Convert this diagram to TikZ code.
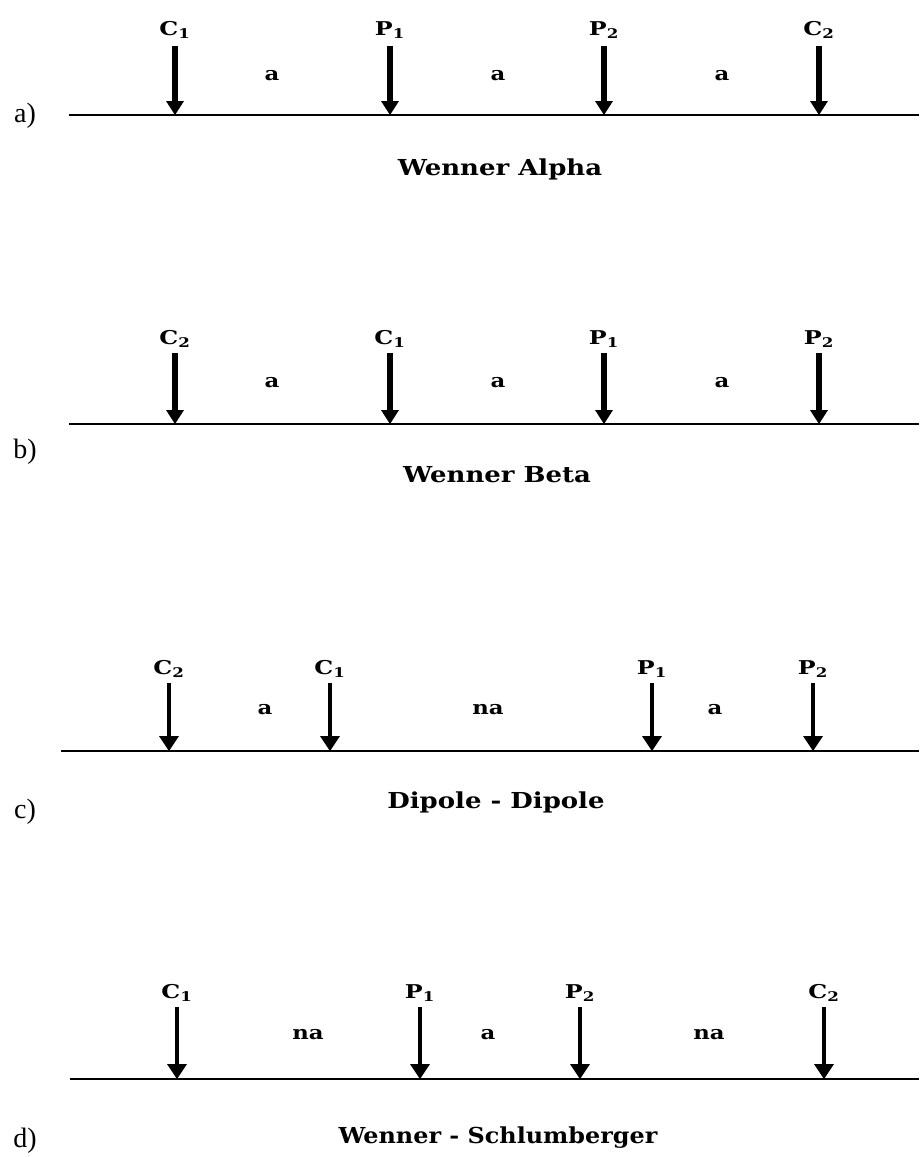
\documentclass[tikz,border=0pt]{standalone}
\usepackage{fontspec}
\setmainfont{Liberation Serif}
\newfontfamily\lblfont{DejaVu Serif}
\usetikzlibrary{arrows.meta}
\tikzset{
  ground/.style={line width=1.6pt},
  thickarr/.style={line width=6pt,-{Triangle[width=18pt,length=14pt,line width=0pt]}},
  thinarr/.style={line width=4.2pt,-{Triangle[width=20pt,length=15pt,line width=0pt]}},
  lab/.style={font=\lblfont\bfseries\fontsize{19}{21}\selectfont,inner sep=0pt,anchor=base,xscale=1.25},
  gap/.style={font=\lblfont\bfseries\fontsize{19}{21}\selectfont,inner sep=0pt,xscale=1.2},
  caption/.style={font=\lblfont\bfseries\fontsize{22}{24}\selectfont,inner sep=0pt,anchor=base,xscale=1.18},
  panel/.style={font=\fontsize{28}{30}\selectfont,inner sep=0pt},
}
\newcommand\elec[7]{% name, x, ground y, label baseline y, arrow top y, text, arrow style
  \coordinate (#1b) at (#2,#3);
  \coordinate (#1t) at (#2,#5);
  \node[lab] (#1) at (#2,#4) {#6};
  \draw[#7] (#1t) -- (#1b);
}
\begin{document}
\begin{tikzpicture}[x=1pt,y=-1pt]
\useasboundingbox[fill=white] (0,0) rectangle (919,1157);
% ---------- a) Wenner Alpha ----------
\coordinate (ga1) at (69,115); \coordinate (ga2) at (919,115);
\draw[ground] (ga1) -- (ga2);
\node[panel] (pa) at (25,116) {a)};
\elec{aC1}{175}{115}{35}{46}{C\textsubscript{1}}{thickarr}
\elec{aP1}{390}{115}{35}{46}{P\textsubscript{1}}{thickarr}
\elec{aP2}{604}{115}{35}{46}{P\textsubscript{2}}{thickarr}
\elec{aC2}{819}{115}{35}{46}{C\textsubscript{2}}{thickarr}
\node[gap] (aa1) at (272,76) {a};
\node[gap] (aa2) at (498,76) {a};
\node[gap] (aa3) at (722,76) {a};
\node[caption] (capa) at (500,175) {Wenner Alpha};
% ---------- b) Wenner Beta ----------
\coordinate (gb1) at (69,424); \coordinate (gb2) at (919,424);
\draw[ground] (gb1) -- (gb2);
\node[panel] (pb) at (25,452) {b)};
\elec{bC2}{175}{424}{344}{353}{C\textsubscript{2}}{thickarr}
\elec{bC1}{390}{424}{344}{353}{C\textsubscript{1}}{thickarr}
\elec{bP1}{604}{424}{344}{353}{P\textsubscript{1}}{thickarr}
\elec{bP2}{819}{424}{344}{353}{P\textsubscript{2}}{thickarr}
\node[gap] (ba1) at (272,383) {a};
\node[gap] (ba2) at (498,383) {a};
\node[gap] (ba3) at (722,383) {a};
\node[caption] (capb) at (497,482) {Wenner Beta};
% ---------- c) Dipole - Dipole ----------
\coordinate (gc1) at (61,751); \coordinate (gc2) at (919,751);
\draw[ground] (gc1) -- (gc2);
\node[panel] (pc) at (25,812) {c)};
\elec{cC2}{169}{751}{674}{683}{C\textsubscript{2}}{thinarr}
\elec{cC1}{330}{751}{674}{683}{C\textsubscript{1}}{thinarr}
\elec{cP1}{652}{751}{674}{683}{P\textsubscript{1}}{thinarr}
\elec{cP2}{813}{751}{674}{683}{P\textsubscript{2}}{thinarr}
\node[gap] (ca1) at (265,710) {a};
\node[gap] (ca2) at (488,710) {na};
\node[gap] (ca3) at (715,710) {a};
\node[caption] (capc) at (496,808) {Dipole - Dipole};
% ---------- d) Wenner - Schlumberger ----------
\coordinate (gd1) at (70,1079); \coordinate (gd2) at (919,1079);
\draw[ground] (gd1) -- (gd2);
\node[panel] (pd) at (25,1141) {d)};
\elec{dC1}{177}{1079}{998}{1007}{C\textsubscript{1}}{thinarr}
\elec{dP1}{420}{1079}{998}{1007}{P\textsubscript{1}}{thinarr}
\elec{dP2}{580}{1079}{998}{1007}{P\textsubscript{2}}{thinarr}
\elec{dC2}{824}{1079}{998}{1007}{C\textsubscript{2}}{thinarr}
\node[gap] (da1) at (308,1035) {na};
\node[gap] (da2) at (488,1035) {a};
\node[gap] (da3) at (709,1035) {na};
\node[caption,xscale=0.92] (capd) at (498,1143) {Wenner - Schlumberger};
\end{tikzpicture}
\end{document}
